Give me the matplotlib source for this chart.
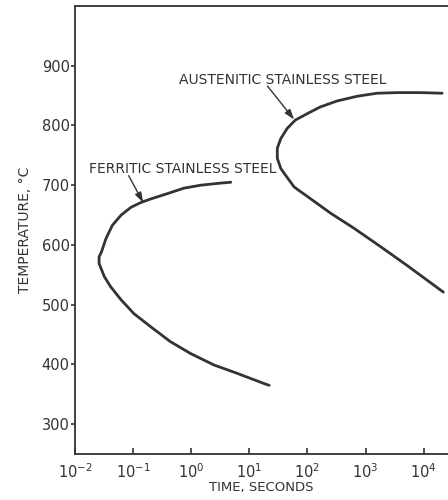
import matplotlib
matplotlib.use("Agg")
import matplotlib.pyplot as plt
from matplotlib.ticker import FixedLocator, NullLocator
import numpy as np

# ferritic stainless steel C-curve (log10 of time in s, temperature in C)
ferr_logt = [0.68, 0.45, 0.16, -0.13, -0.41, -0.70, -0.87, -1.04, -1.21,
             -1.36, -1.47, -1.55, -1.59, -1.59, -1.50, -1.39, -1.21, -0.99,
             -0.70, -0.36, -0.01, 0.39, 0.79, 1.25, 1.34]
ferr_temp = [705, 703, 700, 695, 686, 677, 671, 663, 650,
             633, 611, 588, 580, 569, 547, 530, 508, 485,
             463, 438, 418, 399, 385, 368, 365]

# austenitic stainless steel C-curve
aust_logt = [4.32, 3.94, 3.54, 3.20, 2.86, 2.51, 2.22, 2.00, 1.79,
             1.65, 1.54, 1.48, 1.48, 1.54, 1.62, 1.77, 2.00, 2.40,
             2.80, 3.26, 3.71, 4.06, 4.34]
aust_temp = [854, 855, 855, 854, 849, 841, 831, 820, 809,
             795, 778, 762, 745, 728, 717, 697, 681, 653,
             628, 597, 566, 541, 521]

x_exps = [-2, -1, 0, 1, 2, 3, 4]
y_ticks = [300, 400, 500, 600, 700, 800, 900]

ink = "#333333"

fig = plt.figure(figsize=(4.48, 5.0), dpi=100)
ax = fig.add_axes([0.168, 0.092, 0.832, 0.896])

ax.plot(10.0 ** np.array(ferr_logt), ferr_temp, color=ink, lw=2.0,
        solid_capstyle="round", solid_joinstyle="round")
ax.plot(10.0 ** np.array(aust_logt), aust_temp, color=ink, lw=2.0,
        solid_capstyle="round", solid_joinstyle="round")

ax.set_xscale("log")
ax.set_xlim(1e-2, 10 ** 4.42)
ax.set_ylim(250, 1000)

ax.xaxis.set_major_locator(FixedLocator([10.0 ** e for e in x_exps]))
ax.xaxis.set_minor_locator(NullLocator())
ax.set_xticklabels([r"$\mathregular{10^{%d}}$" % e for e in x_exps])
ax.set_yticks(y_ticks)

ax.tick_params(axis="x", direction="in", length=4, width=1.2, colors=ink,
               labelsize=10.5, pad=6)
ax.tick_params(axis="y", direction="out", length=3, width=1.2, colors=ink,
               labelsize=10.5, pad=1)

for s in ["left", "bottom", "top"]:
    ax.spines[s].set_color(ink)
    ax.spines[s].set_linewidth(1.3)
ax.spines["right"].set_visible(False)

ax.set_xlabel("TIME, SECONDS", fontsize=9.5, color=ink, labelpad=0)
ax.set_ylabel("TEMPERATURE, °C", fontsize=10, color=ink, labelpad=7)

arrow = dict(arrowstyle="-|>,head_length=0.6,head_width=0.2", color=ink,
             lw=1.0, shrinkA=0, shrinkB=0)

ax.text(10 ** -1.76, 720, "FERRITIC STAINLESS STEEL", fontsize=10,
        color=ink, va="baseline")
ax.annotate("", xy=(10 ** -0.83, 671), xytext=(10 ** -1.08, 716),
            arrowprops=arrow)

ax.text(10 ** -0.22, 870, "AUSTENITIC STAINLESS STEEL", fontsize=10,
        color=ink, va="baseline")
ax.annotate("", xy=(10 ** 1.77, 810), xytext=(10 ** 1.31, 866),
            arrowprops=arrow)

fig.savefig("out.png", dpi=100, facecolor="white")
